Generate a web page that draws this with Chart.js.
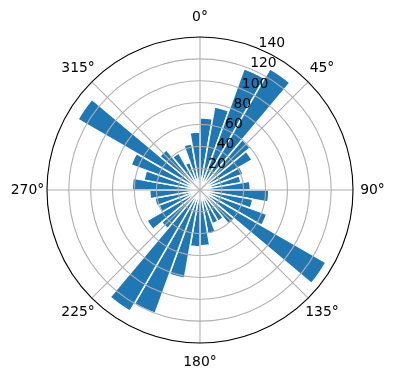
<!DOCTYPE html>
<html>
<head>
<meta charset="utf-8">
<script src="https://cdn.jsdelivr.net/npm/chart.js@4.4.1/dist/chart.umd.min.js"></script>
<style>
  html, body { margin: 0; padding: 0; background: #fff; }
  canvas { display: block; }
</style>
</head>
<body>
<canvas id="roseChart" width="396" height="380"></canvas>
<script>
// 36 sectors of 10 degrees, clockwise from north
const sectors = [
  '0-10', '10-20', '20-30', '30-40', '40-50', '50-60',
  '60-70', '70-80', '80-90', '90-100', '100-110', '110-120',
  '120-130', '130-140', '140-150', '150-160', '160-170', '170-180',
  '180-190', '190-200', '200-210', '210-220', '220-230', '230-240',
  '240-250', '250-260', '260-270', '270-280', '280-290', '290-300',
  '300-310', '310-320', '320-330', '330-340', '340-350', '350-360'
];
const counts = [
  66, 77, 118, 128, 60, 55,
  42, 38, 46, 63, 49, 65,
  133, 41, 33, 33, 41, 51,
  52, 82, 120, 128, 46, 56,
  40, 42, 46, 62, 52, 67,
  129, 48, 39, 27, 43, 53
];
const radialTicks = [20, 40, 60, 80, 100, 120, 140];
const angleTicks = [0, 45, 90, 135, 180, 225, 270, 315];
const rMax = 140;

const font = '13.9px "DejaVu Sans"';

// matplotlib draws the grid over the bars, so draw it after the datasets
const polarGrid = {
  id: 'polarGrid',
  afterDatasetsDraw(chart) {
    const scale = chart.scales.r;
    const ctx = chart.ctx;
    const cx = scale.xCenter;
    const cy = scale.yCenter;
    const outer = scale.getDistanceFromCenterForValue(rMax);

    ctx.save();
    ctx.strokeStyle = '#b0b0b0';
    ctx.lineWidth = 1.1;
    radialTicks.forEach(t => {
      if (t >= rMax) return;
      ctx.beginPath();
      ctx.arc(cx, cy, scale.getDistanceFromCenterForValue(t), 0, Math.PI * 2);
      ctx.stroke();
    });
    angleTicks.forEach(a => {
      const rad = (a - 90) * Math.PI / 180;
      ctx.beginPath();
      ctx.moveTo(cx, cy);
      ctx.lineTo(cx + outer * Math.cos(rad), cy + outer * Math.sin(rad));
      ctx.stroke();
    });

    ctx.strokeStyle = '#000';
    ctx.lineWidth = 1.1;
    ctx.beginPath();
    ctx.arc(cx, cy, outer, 0, Math.PI * 2);
    ctx.stroke();

    ctx.fillStyle = '#000';
    ctx.font = font;

    // radial tick labels along 22.5 deg
    const lab = 22.5 * Math.PI / 180;
    ctx.textAlign = 'left';
    ctx.textBaseline = 'alphabetic';
    radialTicks.forEach(t => {
      const d = scale.getDistanceFromCenterForValue(t);
      ctx.fillText(String(t), cx + d * Math.sin(lab), cy - d * Math.cos(lab) - 1.5);
    });

    // angle labels
    ctx.textAlign = 'center';
    ctx.textBaseline = 'middle';
    angleTicks.forEach(a => {
      const rad = (a - 90) * Math.PI / 180;
      const d = outer + 19.5;
      ctx.fillText(a + '°', cx + d * Math.cos(rad), cy + d * Math.sin(rad));
    });
    ctx.restore();
  }
};

new Chart(
  document.getElementById('roseChart'),
  {
    type: 'polarArea',
    data: {
      labels: sectors,
      datasets: [
        {
          label: 'Counts',
          data: counts,
          backgroundColor: '#1f77b4',
          borderColor: '#ffffff',
          borderWidth: 1.5
        }
      ]
    },
    options: {
      responsive: false,
      animation: false,
      layout: {
        padding: { left: 47, right: 42, top: 37, bottom: 36 }
      },
      plugins: {
        legend: { display: false },
        tooltip: { enabled: false }
      },
      scales: {
        r: {
          min: 0,
          max: rMax,
          ticks: { display: false, stepSize: 20 },
          grid: { display: false },
          angleLines: { display: false },
          pointLabels: { display: false }
        }
      }
    },
    plugins: [polarGrid]
  }
);
</script>
</body>
</html>
